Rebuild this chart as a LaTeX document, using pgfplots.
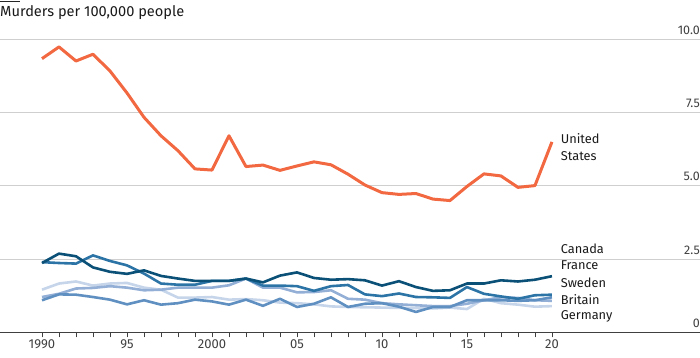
\documentclass[border=0pt]{standalone}
\usepackage{pgfplots}
\pgfplotsset{compat=1.18}
\usepackage{pgfplotstable}
\usepackage{fontspec}
\setmainfont{Fira Sans}
\definecolor{usred}{HTML}{F26841}
\definecolor{cacol}{HTML}{0B5077}
\definecolor{frcol}{HTML}{2C74A6}
\definecolor{secol}{HTML}{6090C2}
\definecolor{gbcol}{HTML}{93AFD6}
\definecolor{decol}{HTML}{C6D5EA}
\definecolor{gridc}{HTML}{CFCFCF}
\definecolor{txt}{HTML}{1A1A1A}

\pgfplotstableread{
year us ca fr se gb de
1990 9.34 2.37 2.40 1.10 1.21 1.46
1991 9.74 2.69 2.37 1.30 1.32 1.67
1992 9.26 2.60 2.35 1.29 1.50 1.74
1993 9.49 2.22 2.63 1.21 1.52 1.60
1994 8.92 2.07 2.44 1.12 1.58 1.67
1995 8.17 2.00 2.29 0.96 1.53 1.69
1996 7.34 2.12 2.01 1.10 1.44 1.53
1997 6.71 1.93 1.67 0.95 1.46 1.46
1998 6.20 1.84 1.63 1.00 1.53 1.19
1999 5.58 1.76 1.63 1.12 1.53 1.19
2000 5.54 1.76 1.76 1.06 1.53 1.21
2001 6.71 1.76 1.76 0.95 1.61 1.12
2002 5.66 1.84 1.84 1.12 1.84 1.14
2003 5.71 1.71 1.60 0.91 1.53 1.10
2004 5.53 1.94 1.60 1.15 1.53 1.02
2005 5.68 2.05 1.58 0.87 1.37 1.00
2006 5.82 1.86 1.42 0.98 1.38 0.96
2007 5.72 1.80 1.58 1.20 1.44 0.89
2008 5.40 1.82 1.62 0.87 1.15 0.87
2009 5.03 1.78 1.30 0.98 1.12 0.86
2010 4.77 1.60 1.24 1.00 1.00 0.85
2011 4.71 1.75 1.33 0.88 0.96 0.84
2012 4.74 1.55 1.21 0.70 0.93 0.83
2013 4.55 1.42 1.20 0.87 0.90 0.82
2014 4.50 1.44 1.18 0.87 0.90 0.85
2015 4.98 1.67 1.55 1.10 0.98 0.80
2016 5.41 1.67 1.32 1.10 1.10 1.15
2017 5.34 1.78 1.23 1.10 1.20 1.00
2018 4.95 1.74 1.15 1.08 1.18 0.95
2019 5.01 1.80 1.27 1.10 1.10 0.88
2020 6.50 1.92 1.29 1.20 1.08 0.90
}\data

\begin{document}
\begin{tikzpicture}[x=1pt,y=1pt]
\begin{axis}[
  at={(0,0)}, anchor=south west,
  scale only axis, width=700pt, height=293.2pt,
  xmin=1987.53, xmax=2028.71, ymin=0, ymax=10,
  axis x line*=bottom, axis y line*=right,
  y axis line style={draw=none},
  x axis line style={draw=black!75, line width=0.9pt, -},
  ytick={0,2.5,5,7.5,10}, yticklabels={}, ytick style={draw=none},
  ymajorgrids, grid style={draw=gridc, line width=0.9pt},
  xtick={1990,1995,2000,2005,2010,2015,2020},
  xticklabels={1990,95,2000,05,10,15,20},
  minor xtick={1991,1992,1993,1994,1996,1997,1998,1999,2001,2002,2003,2004,2006,2007,2008,2009,2011,2012,2013,2014,2016,2017,2018,2019},
  tick align=outside, major tick length=5pt, minor tick length=5pt,
  xtick style={draw=black!75, line width=0.8pt},
  xticklabel style={font=\fontsize{13}{15}\selectfont, text=black!75, yshift=1pt},
  /pgf/number format/assume math mode=true,
  clip=false,
  every axis plot/.append style={line width=2.6pt, line join=round, no markers},
]
\addplot[decol] table[x=year,y=de]{\data};
\addplot[gbcol] table[x=year,y=gb]{\data};
\addplot[secol] table[x=year,y=se]{\data};
\addplot[frcol] table[x=year,y=fr]{\data};
\addplot[cacol] table[x=year,y=ca]{\data};
\addplot[usred, line width=3pt] table[x=year,y=us]{\data};

\foreach \v/\t in {0/0,2.5/2.5,5/5.0,7.5/7.5,10/10.0}{
  \edef\temp{\noexpand\node[anchor=base east, inner sep=0pt, text=black!75, font=\noexpand\fontsize{12.5}{14}\noexpand\selectfont] at (rel axis cs:1,\v/10) [yshift=5pt] {\t};}
  \temp
}
\begin{scope}[every node/.style={anchor=west, fill=white, inner xsep=1.5pt, inner ysep=1pt, text=txt, font=\fontsize{12.8}{16.7}\selectfont}]
\node at (axis cs:2020.42,2.85) {Canada};
\node at (axis cs:2020.42,2.28) {France};
\node at (axis cs:2020.42,1.71) {Sweden};
\node at (axis cs:2020.42,1.13) {Britain};
\node at (axis cs:2020.42,0.55) {Germany};
\node[align=left, fill=none] at (axis cs:2020.42,6.32) {United\\States};
\end{scope}
\end{axis}
\draw[line width=1.3pt, black!85] (0,330.8) -- (20,330.8);
\node[anchor=base west, inner sep=0pt, text=txt, font=\fontsize{14.6}{16}\selectfont] at (0,315.5) {Murders per 100,000 people};
\pgfresetboundingbox
\path[use as bounding box] (0,-25.5) rectangle (700,332.5);
\end{tikzpicture}
\end{document}
